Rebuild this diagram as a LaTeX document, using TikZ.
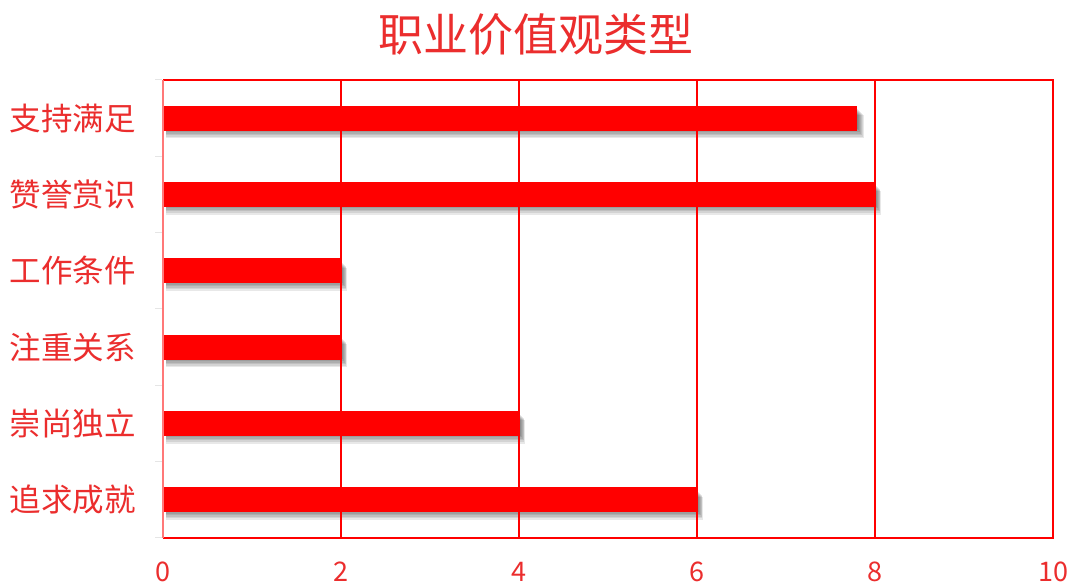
\documentclass[tikz,border=0pt]{standalone}
\usepackage{fontspec}
\setmainfont{Noto Sans CJK SC}
\newfontfamily\cjk{Noto Sans CJK SC}
\definecolor{txtred}{RGB}{235,45,45}
\definecolor{axred}{RGB}{255,0,0}
\definecolor{leftred}{RGB}{255,120,120}
\tikzset{
  catlabel/.style={anchor=east, text=txtred, font=\fontsize{31.5}{33}\selectfont\cjk, inner sep=0pt},
  ticklabel/.style={anchor=center, text=txtred, font=\fontsize{27}{29}\selectfont, inner sep=0pt},
  gridline/.style={draw=axred, line width=1.5pt},
  barbox/.style={fill=axred, draw=none},
  shadowbox/.style={fill=black, opacity=0.09, draw=none},
  titlelabel/.style={text=txtred, font=\fontsize{45}{47}\selectfont\cjk, inner sep=0pt}
}
\begin{document}
\begin{tikzpicture}[x=1pt,y=-1pt]
\useasboundingbox (0,0) rectangle (1072,583);
\fill[white] (0,0) rectangle (1072,583);
% title
\node[titlelabel] (title) at (536,35) {职业价值观类型};
% bars
\foreach \v/\r [count=\i] in {7.8/0,8/1,2/2,2/3,4/4,6/5}{
  \pgfmathsetmacro{\yc}{80+38.17+76.33*\r}
  \pgfmathsetmacro{\xe}{163+89*\v}
  \foreach \s in {1,2,3,4,5,6,7}{
    \path[shadowbox] (166,\yc-10+1.0*\s) rectangle (\xe+0.9*\s,\yc+9+1.6*\s);
  }
  \path[barbox] (164,\yc-12.5) rectangle (\xe,\yc+12.5);
}
% grid
\foreach \k in {1,2,3,4}{
  \draw[gridline] (163+178*\k,80) -- (163+178*\k,538);
}
\draw[gridline] (163,80) -- (1053,80) -- (1053,538) -- (163,538);
\draw[draw=leftred, line width=1.5pt] (163,80) -- (163,538);
% small ticks
\foreach \r in {0,...,6}{
  \draw[black!10, line width=1pt] (155,80+76.33*\r) -- (162,80+76.33*\r);
}
% category labels
\foreach \t [count=\i] in {支持满足,赞誉赏识,工作条件,注重关系,崇尚独立,追求成就}{
  \node[catlabel] (c\i) at (136,80+38.17+76.33*\i-76.33) {\t};
}
% tick labels
\foreach \n [count=\i] in {0,2,4,6,8,10}{
  \node[ticklabel] (t\i) at (163+178*\i-178,572) {\n};
}
\end{tikzpicture}
\end{document}
